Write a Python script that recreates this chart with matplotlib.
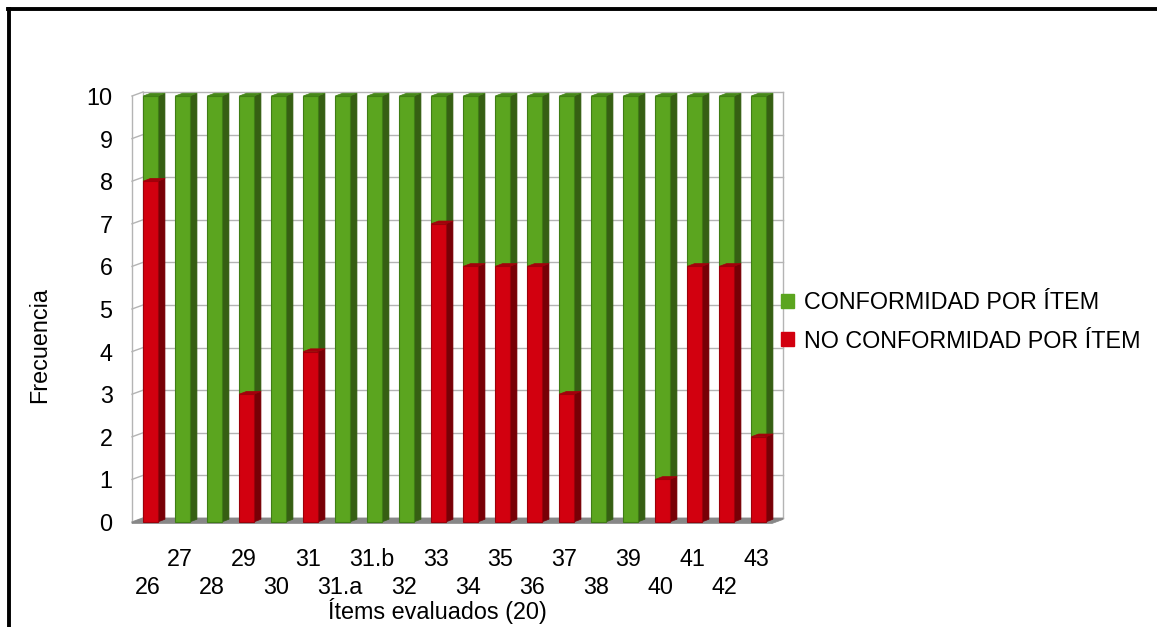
import matplotlib
matplotlib.use("Agg")
import matplotlib.pyplot as plt
from matplotlib.patches import Polygon, Patch
from matplotlib.lines import Line2D

plt.rcParams["font.family"] = ["Liberation Sans", "DejaVu Sans"]

# Items evaluated and counts per item (out of 10)
items = ["26", "27", "28", "29", "30", "31", "31.a", "31.b", "32", "33",
         "34", "35", "36", "37", "38", "39", "40", "41", "42", "43"]
no_conformidad = [8, 0, 0, 3, 0, 4, 0, 0, 0, 7, 6, 6, 6, 3, 0, 0, 1, 6, 6, 2]
conformidad = [2, 10, 10, 7, 10, 6, 10, 10, 10, 3, 4, 4, 4, 7, 10, 10, 9, 4, 4, 8]
yticks = list(range(0, 11))

label_conf = "CONFORMIDAD POR ÍTEM"
label_noconf = "NO CONFORMIDAD POR ÍTEM"
xlabel = "Ítems evaluados (20)"
ylabel = "Frecuencia"

GREEN, GREEN_SIDE, GREEN_TOP, GREEN_EDGE = "#5ba51f", "#365f13", "#47881a", "#3f7d15"
RED, RED_SIDE, RED_TOP, RED_EDGE = "#d2000f", "#780006", "#a3000b", "#9c000a"
FS = 16.8

W, H = 1157, 627
fig = plt.figure(figsize=(W / 100, H / 100), dpi=100)
fig.patch.set_facecolor("white")

# front plane of the 3-D plot box, in pixels
x0p, x1p, y0p, y1p = 132, 772, 522, 96
ax = fig.add_axes([x0p / W, 1 - y0p / H, (x1p - x0p) / W, (y0p - y1p) / H])
n = len(items)
ax.set_xlim(0, n)
ax.set_ylim(0, 10)
for s in ax.spines.values():
    s.set_visible(False)
ax.set_facecolor("none")

# depth offset of the back wall (data units)
dx, dy = 11 / 32, 4 / 42.6

# back wall, left wall edges and gridlines
wall_c = "#b4b4b4"
for v in yticks:
    ax.add_line(Line2D([dx, n + dx], [v + dy, v + dy], color=wall_c, lw=1.0, clip_on=False, zorder=1))
    ax.add_line(Line2D([0, dx], [v, v + dy], color=wall_c, lw=1.0, clip_on=False, zorder=1))
ax.add_line(Line2D([0, 0], [0, 10], color=wall_c, lw=1.0, clip_on=False, zorder=1))
ax.add_line(Line2D([dx, dx], [dy, 10 + dy], color=wall_c, lw=1.0, clip_on=False, zorder=1))
ax.add_line(Line2D([n + dx, n + dx], [dy, 10 + dy], color=wall_c, lw=1.0, clip_on=False, zorder=1))

# floor slab
slab = 0.035
ax.add_patch(Polygon([(0, -slab), (n, -slab), (n + dx, dy - slab), (n + dx, dy), (dx, dy), (0, 0)],
                     closed=True, facecolor="#878787", edgecolor="#878787", lw=0.5,
                     clip_on=False, zorder=2))

# bar geometry within a category slot
f0, f1 = 0.35, 0.80       # front face
sd, sdy = 0.23, 0.065     # side/top depth


def box(i, lo, hi, front, side, top, edge, z):
    xa, xb = i + f0, i + f1
    ax.add_patch(Polygon([(xb, lo), (xb + sd, lo + sdy), (xb + sd, hi + sdy), (xb, hi)],
                         closed=True, facecolor=side, edgecolor=side, lw=0.5, clip_on=False, zorder=z))
    ax.add_patch(Polygon([(xa, lo), (xb, lo), (xb, hi), (xa, hi)],
                         closed=True, facecolor=front, edgecolor=edge, lw=0.8, clip_on=False, zorder=z + 0.1))
    ax.add_patch(Polygon([(xa, hi), (xb, hi), (xb + sd, hi + sdy), (xa + sd, hi + sdy)],
                         closed=True, facecolor=top, edgecolor=top, lw=0.5, clip_on=False, zorder=z + 0.2))


for i in range(n):
    r, g = no_conformidad[i], conformidad[i]
    if g > 0:
        box(i, r, r + g, GREEN, GREEN_SIDE, GREEN_TOP, GREEN_EDGE, 3 + i * 0.01)
    if r > 0:
        box(i, 0, r, RED, RED_SIDE, RED_TOP, RED_EDGE, 3.5 + i * 0.01)

# y axis
ax.set_yticks(yticks)
ax.set_yticklabels([str(v) for v in yticks], fontsize=FS)
ax.tick_params(axis="y", length=0, pad=14)

# x axis: alternating two rows of labels
centers = [i + 0.5 for i in range(n)]
ax.set_xticks(centers[1::2])
ax.set_xticklabels(items[1::2], fontsize=FS)
ax.set_xticks(centers[0::2], minor=True)
ax.set_xticklabels(items[0::2], minor=True, fontsize=FS)
ax.tick_params(axis="x", which="major", length=0, pad=19)
ax.tick_params(axis="x", which="minor", length=0, pad=39)

fig.text(437 / W, 1 - 611 / H, xlabel, fontsize=FS, ha="center", va="center")
fig.text(40 / W, 1 - 345 / H, ylabel, fontsize=FS, ha="center", va="center", rotation=90)

# legend
handles = [Patch(facecolor=GREEN, edgecolor=GREEN, label=label_conf),
           Patch(facecolor=RED, edgecolor=RED, label=label_noconf)]
fig.legend(handles=handles, loc="center left", bbox_to_anchor=(781 / W, 1 - 322 / H),
           frameon=False, fontsize=FS, handlelength=0.55, handleheight=0.55,
           handletextpad=0.45, labelspacing=0.65, borderaxespad=0, borderpad=0)

# outer frame: top and left rules
fig.add_artist(Line2D([8 / W, 1], [1 - 9 / H, 1 - 9 / H], color="black", lw=2.8,
                      transform=fig.transFigure))
fig.add_artist(Line2D([9 / W, 9 / W], [1 - 9 / H, 0], color="black", lw=2.8,
                      transform=fig.transFigure))

fig.savefig("out.png", dpi=100, facecolor="white")
